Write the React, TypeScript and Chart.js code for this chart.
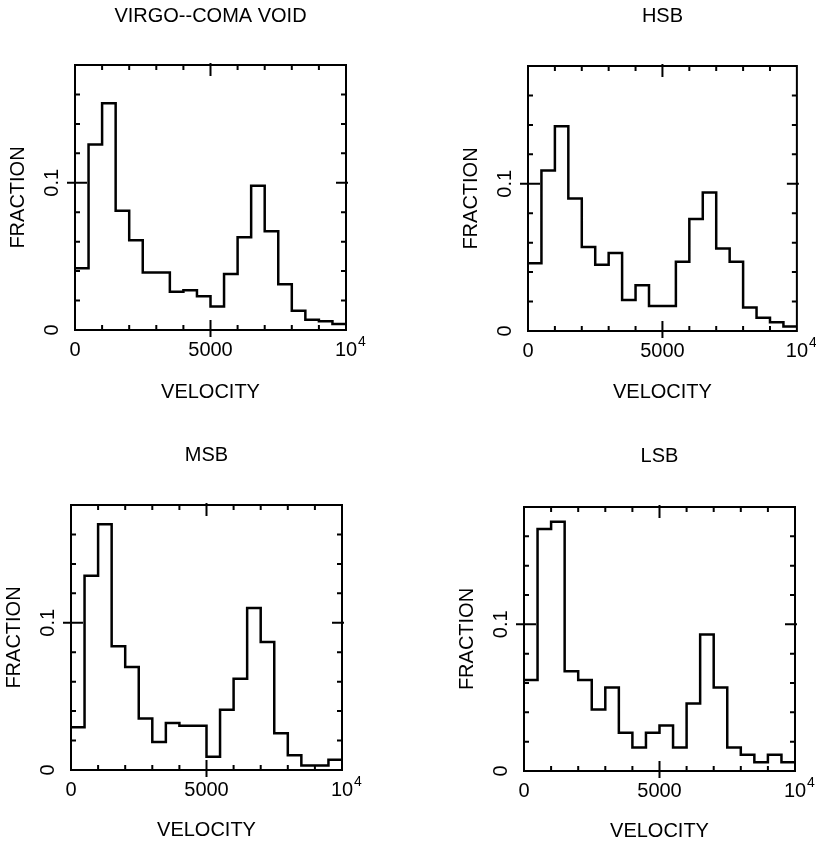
import React, { useEffect, useRef } from 'react';
import { Chart, registerables } from 'chart.js';

Chart.register(...registerables);

// ---- data ----
const velocityEdges = [0, 500, 1000, 1500, 2000, 2500, 3000, 3500, 4000, 4500, 5000, 5500, 6000, 6500, 7000, 7500, 8000, 8500, 9000, 9500, 10000];

const virgoComaVoid = [0.042, 0.126, 0.154, 0.081, 0.061, 0.039, 0.039, 0.026, 0.027, 0.023, 0.016, 0.038, 0.063, 0.098, 0.067, 0.031, 0.013, 0.007, 0.006, 0.004];
const hsbFraction = [0.046, 0.109, 0.139, 0.090, 0.057, 0.045, 0.053, 0.021, 0.031, 0.017, 0.017, 0.047, 0.076, 0.094, 0.056, 0.047, 0.016, 0.009, 0.006, 0.003];
const msbFraction = [0.029, 0.132, 0.167, 0.084, 0.070, 0.035, 0.019, 0.032, 0.030, 0.030, 0.009, 0.041, 0.062, 0.110, 0.087, 0.025, 0.010, 0.003, 0.003, 0.007];
const lsbFraction = [0.062, 0.165, 0.170, 0.068, 0.062, 0.042, 0.057, 0.026, 0.016, 0.026, 0.031, 0.016, 0.046, 0.093, 0.057, 0.016, 0.011, 0.006, 0.011, 0.006];

const panelTitles = ['VIRGO--COMA VOID', 'HSB', 'MSB', 'LSB'];
const panelSeries = [virgoComaVoid, hsbFraction, msbFraction, lsbFraction];

const xTickValues = [0, 5000, 10000];
const xTickLabels = ['0', '5000', '10'];
const xTickExponents = ['', '', '4'];
const xMinorTicks = [1000, 2000, 3000, 4000, 6000, 7000, 8000, 9000];
const yTickValues = [0, 0.1];
const yTickLabels = ['0', '0.1'];
const yMinorTicks = [0.02, 0.04, 0.06, 0.08, 0.12, 0.14, 0.16];
const xRange = [0, 10000];
const yRange = [0, 0.18];

const xTitle = 'VELOCITY';
const yTitle = 'FRACTION';

// ---- layout ----
const FONT_FAMILY = "'Liberation Sans', Arial, sans-serif";
const TITLE_SIZE = 20;
const LABEL_SIZE = 20;
const SUP_SIZE = 14;
const X_LABEL_PAD = 8;

const panelLayouts = [
  { left: 0, top: 0, width: 408, height: 423, areaL: 75, areaT: 65, areaR: 346, areaB: 330, titleY: 16, xTitleY: 392 },
  { left: 408, top: 0, width: 408, height: 423, areaL: 120, areaT: 66, areaR: 389, areaB: 331, titleY: 16, xTitleY: 392 },
  { left: 0, top: 423, width: 408, height: 424, areaL: 71, areaT: 82, areaR: 342, areaB: 347, titleY: 32, xTitleY: 407 },
  { left: 408, top: 423, width: 408, height: 424, areaL: 116, areaT: 84, areaR: 387, areaB: 348, titleY: 33, xTitleY: 408 },
];

const frameAndTicks = {
  id: 'frameAndTicks',
  afterDraw(chart: any) {
    const { ctx, chartArea } = chart;
    const { left: L, right: R, top: T, bottom: B } = chartArea;
    const xs = chart.scales.x;
    const ys = chart.scales.y;
    ctx.save();
    ctx.strokeStyle = '#000';
    ctx.lineWidth = 2;
    ctx.strokeRect(L, T, R - L, B - T);
    ctx.beginPath();
    for (const v of xMinorTicks) {
      const px = xs.getPixelForValue(v);
      ctx.moveTo(px, B); ctx.lineTo(px, B - 5);
      ctx.moveTo(px, T); ctx.lineTo(px, T + 5);
    }
    for (const v of xTickValues) {
      if (v <= xRange[0] || v >= xRange[1]) continue;
      const px = xs.getPixelForValue(v);
      ctx.moveTo(px, B + 7); ctx.lineTo(px, B - 10);
      ctx.moveTo(px, T - 2); ctx.lineTo(px, T + 11);
    }
    for (const v of yMinorTicks) {
      const py = ys.getPixelForValue(v);
      ctx.moveTo(L, py); ctx.lineTo(L + 5, py);
      ctx.moveTo(R, py); ctx.lineTo(R - 5, py);
    }
    for (const v of yTickValues) {
      if (v <= yRange[0] || v >= yRange[1]) continue;
      const py = ys.getPixelForValue(v);
      ctx.moveTo(L - 8, py); ctx.lineTo(L + 12, py);
      ctx.moveTo(R + 2, py); ctx.lineTo(R - 10, py);
    }
    ctx.stroke();

    ctx.fillStyle = '#000';
    // rotated y tick labels
    ctx.font = `${LABEL_SIZE}px ${FONT_FAMILY}`;
    ctx.textAlign = 'center';
    ctx.textBaseline = 'middle';
    yTickValues.forEach((v, i) => {
      const py = ys.getPixelForValue(v);
      ctx.save();
      ctx.translate(L - 23, py);
      ctx.rotate(-Math.PI / 2);
      ctx.fillText(yTickLabels[i], 0, 0);
      ctx.restore();
    });
    // superscript exponents on x tick labels
    xTickValues.forEach((v, i) => {
      const exp = xTickExponents[i];
      if (!exp) return;
      ctx.font = `${LABEL_SIZE}px ${FONT_FAMILY}`;
      const w = ctx.measureText(xTickLabels[i]).width;
      const px = xs.getPixelForValue(v);
      ctx.font = `${SUP_SIZE}px ${FONT_FAMILY}`;
      ctx.textAlign = 'left';
      ctx.textBaseline = 'top';
      ctx.fillText(exp, px + w / 2 + 1, B + X_LABEL_PAD - 3);
    });
    ctx.restore();
  },
};

function Panel({ index }: { index: number }) {
  const ref = useRef<HTMLCanvasElement | null>(null);
  const lay = panelLayouts[index];
  useEffect(() => {
    if (!ref.current) return;
    const values = panelSeries[index];
    const points = velocityEdges.map((x, i) => ({ x, y: values[Math.min(i, values.length - 1)] }));
    const titleLH = TITLE_SIZE * 1.2;
    const labelLH = LABEL_SIZE * 1.2;
    const chart = new Chart(ref.current, {
      type: 'line',
      data: {
        datasets: [
          {
            data: points,
            stepped: 'before',
            borderColor: '#000',
            borderWidth: 2.5,
            pointRadius: 0,
            fill: false,
          },
        ],
      },
      options: {
        animation: false,
        responsive: false,
        devicePixelRatio: 1,
        layout: { padding: { left: 0, right: lay.width - lay.areaR, top: 0, bottom: 0 } },
        plugins: {
          legend: { display: false },
          tooltip: { enabled: false },
          title: {
            display: true,
            fullSize: false,
            align: 'center',
            text: panelTitles[index],
            color: '#000',
            font: { family: FONT_FAMILY, size: TITLE_SIZE, weight: 'normal' },
            padding: { top: lay.titleY - titleLH / 2, bottom: lay.areaT - lay.titleY - titleLH / 2 },
          },
        },
        scales: {
          x: {
            type: 'linear',
            min: xRange[0],
            max: xRange[1],
            grid: { display: false, drawTicks: false },
            border: { display: false },
            afterBuildTicks: (s: any) => {
              s.ticks = xTickValues.map((v) => ({ value: v }));
            },
            ticks: {
              autoSkip: false,
              maxRotation: 0,
              minRotation: 0,
              padding: X_LABEL_PAD,
              color: '#000',
              font: { family: FONT_FAMILY, size: LABEL_SIZE },
              callback: (v: any) => {
                const i = xTickValues.indexOf(Number(v));
                return i >= 0 ? xTickLabels[i] : '';
              },
            },
            title: {
              display: true,
              text: xTitle,
              color: '#000',
              font: { family: FONT_FAMILY, size: LABEL_SIZE },
              padding: { top: 0, bottom: lay.height - lay.xTitleY - labelLH / 2 },
            },
            afterFit: (s: any) => {
              s.height = lay.height - lay.areaB;
            },
          },
          y: {
            type: 'linear',
            min: yRange[0],
            max: yRange[1],
            grid: { display: false, drawTicks: false },
            border: { display: false },
            ticks: { display: false },
            title: {
              display: true,
              text: yTitle,
              color: '#000',
              font: { family: FONT_FAMILY, size: LABEL_SIZE },
              padding: { top: lay.areaL - 57 - labelLH / 2, bottom: 0 },
            },
            afterFit: (s: any) => {
              s.width = lay.areaL;
            },
          },
        },
      },
      plugins: [frameAndTicks],
    } as any);
    return () => chart.destroy();
  }, [index]);
  return (
    <canvas
      ref={ref}
      width={lay.width}
      height={lay.height}
      style={{ position: 'absolute', left: lay.left, top: lay.top, width: lay.width, height: lay.height }}
    />
  );
}

export default function App() {
  return (
    <div style={{ position: 'absolute', left: 0, top: 0, width: 816, height: 847, background: '#fff' }}>
      {panelTitles.map((_, i) => (
        <Panel key={i} index={i} />
      ))}
    </div>
  );
}
